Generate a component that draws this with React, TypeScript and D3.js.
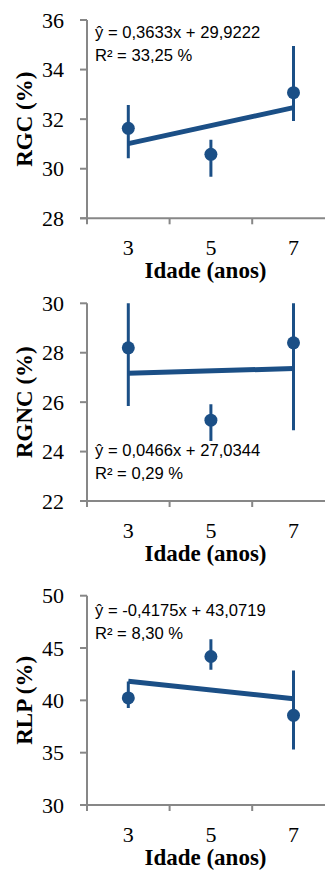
import React from 'react';
import * as d3 from 'd3';

// ages on the x axis
const ages = [3, 5, 7];

// RGC (%)
const rgcMean = [31.63, 30.58, 33.07];
const rgcHigh = [32.57, 31.17, 34.95];
const rgcLow = [30.42, 29.68, 31.93];

// RGNC (%)
const rgncMean = [28.2, 25.27, 28.4];
const rgncHigh = [30.56, 25.92, 31.94];
const rgncLow = [25.84, 24.43, 24.86];

// RLP (%)
const rlpMean = [40.23, 44.19, 38.57];
const rlpHigh = [41.8, 45.85, 42.86];
const rlpLow = [39.28, 42.92, 35.3];

// fitted lines
const slopes = [0.3633, 0.0466, -0.4175];
const intercepts = [29.9222, 27.0344, 43.0719];
const eqLabels = ['ŷ = 0,3633x + 29,9222', 'ŷ = 0,0466x + 27,0344', 'ŷ = -0,4175x + 43,0719'];
const r2Labels = ['R² = 33,25 %', 'R² = 0,29 %', 'R² = 8,30 %'];

const titles = ['RGC (%)', 'RGNC (%)', 'RLP (%)'];
const yDomains = [[28, 36], [22, 30], [30, 50]];
const yTicks = [[28, 30, 32, 34, 36], [22, 24, 26, 28, 30], [30, 35, 40, 45, 50]];

const BLUE = '#1b4f86';
const GRAY = '#878787';
const SERIF = 'Liberation Serif, DejaVu Serif, serif';
const SANS = 'Liberation Sans, Arial, sans-serif';

const panels = [
  { top: 20, bottom: 218.3, eqY: 38, means: rgcMean, highs: rgcHigh, lows: rgcLow },
  { top: 303.3, bottom: 501, eqY: 456, means: rgncMean, highs: rgncHigh, lows: rgncLow },
  { top: 595.7, bottom: 805, eqY: 616, means: rlpMean, highs: rlpHigh, lows: rlpLow },
];

const x = d3.scaleLinear().domain([2, 8]).range([87, 334.8]);

const Panel = ({ i }: { i: number }) => {
  const p = panels[i];
  const y = d3.scaleLinear().domain(yDomains[i]).range([p.bottom, p.top]);
  const fit = (a: number) => slopes[i] * a + intercepts[i];
  const line = d3.line<number>().x(a => x(a)).y(a => y(fit(a)));
  const left = x(2);
  const clipId = `clip${i}`;
  return (
    <g>
      <defs>
        <clipPath id={clipId}>
          <rect x={left} y={p.top} width={325 - left} height={p.bottom - p.top} />
        </clipPath>
      </defs>
      {/* y axis */}
      <line x1={left} x2={left} y1={p.top} y2={p.bottom + 6} stroke={GRAY} strokeWidth={2} />
      {yTicks[i].map(t => (
        <g key={t}>
          <line x1={left - 7} x2={left} y1={y(t)} y2={y(t)} stroke={GRAY} strokeWidth={2} />
          <text x={64} y={y(t)} dy="0.35em" textAnchor="end" style={{ fontFamily: SERIF }} fontSize={22} fill="#000">{t}</text>
        </g>
      ))}
      {/* x axis */}
      <line x1={left - 7} x2={x(8)} y1={p.bottom} y2={p.bottom} stroke={GRAY} strokeWidth={2} />
      {[4, 6, 8].map(t => (
        <line key={t} x1={x(t)} x2={x(t)} y1={p.bottom} y2={p.bottom + 6} stroke={GRAY} strokeWidth={2} />
      ))}
      {ages.map(a => (
        <text key={a} x={x(a)} y={p.bottom + 37} textAnchor="middle" style={{ fontFamily: SERIF }} fontSize={22}>{a}</text>
      ))}
      <text x={(left + 325) / 2 - 0.5} y={p.bottom + 60} textAnchor="middle" style={{ fontFamily: SERIF }} fontWeight="bold" fontSize={23}>Idade (anos)</text>
      <text transform={`translate(32,${(p.top + p.bottom) / 2}) rotate(-90)`} textAnchor="middle" style={{ fontFamily: SERIF }} fontWeight="bold" fontSize={23}>{titles[i]}</text>
      {/* error bars */}
      <g clipPath={`url(#${clipId})`}>
        {ages.map((a, k) => (
          <line key={a} x1={x(a)} x2={x(a)} y1={y(p.highs[k])} y2={y(p.lows[k])} stroke={BLUE} strokeWidth={3} />
        ))}
      </g>
      {/* trend line */}
      <path d={line([ages[0], ages[ages.length - 1]]) || ''} fill="none" stroke={BLUE} strokeWidth={5} />
      {ages.map((a, k) => (
        <circle key={a} cx={x(a)} cy={y(p.means[k])} r={6.5} fill={BLUE} />
      ))}
      <text x={95} y={p.eqY} style={{ fontFamily: SANS }} fontSize={16.6} fill="#000">{eqLabels[i]}</text>
      <text x={95} y={p.eqY + 23} style={{ fontFamily: SANS }} fontSize={16.6} fill="#000">{r2Labels[i]}</text>
    </g>
  );
};

export default function App() {
  return (
    <svg width={325} height={870} style={{ position: 'absolute', left: 0, top: 0, background: '#fff' }}>
      {panels.map((_, i) => <Panel key={i} i={i} />)}
    </svg>
  );
}
